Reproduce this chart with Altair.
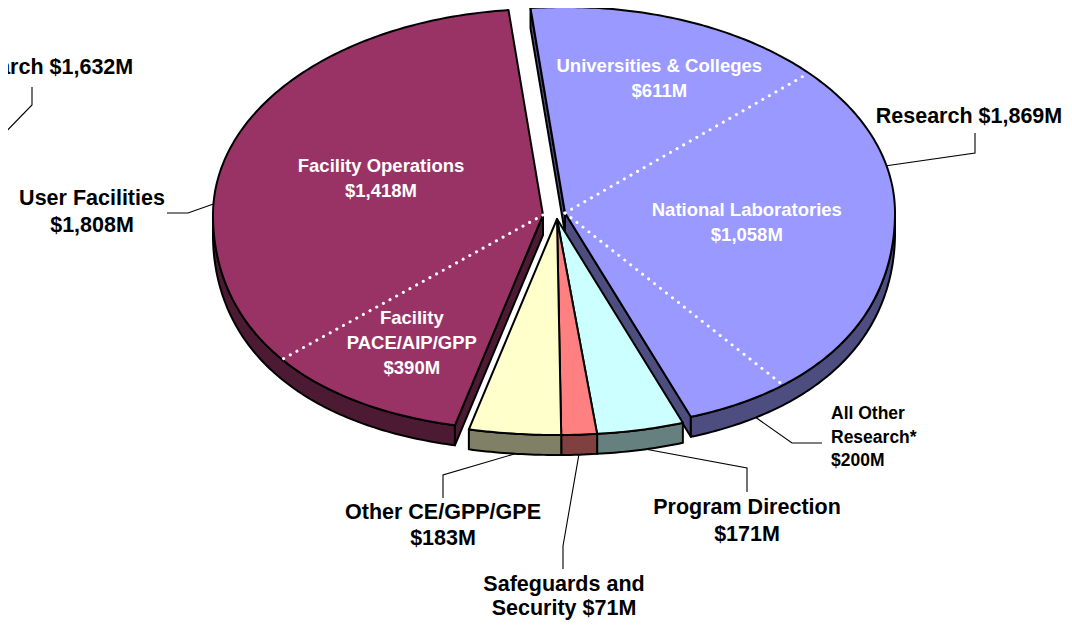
import math
import altair as alt

# ---------------- chart values ----------------
slice_names = ["Research", "Program Direction", "Safeguards and Security",
               "Other CE/GPP/GPE", "User Facilities"]          # clockwise from the top
slice_values = [1869, 171, 71, 183, 1808]                        # $M
slice_piece = [0, 1, 1, 1, 2]                                    # exploded piece of each slice
top_colors = ["#9999FF", "#CCFFFF", "#FF8080", "#FFFFCC", "#993366"]
side_colors = ["#4D4D80", "#668080", "#804040", "#808066", "#4D1A33"]

research_parts = ["Universities & Colleges", "National Laboratories", "All Other Research*"]
research_part_values = [611, 1058, 200]
facility_parts = ["Facility PACE/AIP/GPP", "Facility Operations"]
facility_part_values = [390, 1418]

neighbour_name = "Research"          # label of the neighbouring (cut off) pie
neighbour_value = 1632


def money(v):
    return f"${v:,}M"


# ---------------- layout (page pixels) ----------------
MARGIN = 8
START = -6.0
CX, CY = 557, 219
RX, RY, RY_PERSP = 330, 211, 5
BULGE = 0.04
DEPTH = 20
piece_offset = [(8, -6), (0, 0), (-14, -4)]
FONT = "Liberation Sans"

total = sum(slice_values)
spans = [v / total * 360 for v in slice_values]
a0s, a = [], START
for s_ in spans:
    a0s.append(a)
    a += s_
a1s = [a0 + s_ for a0, s_ in zip(a0s, spans)]


def apex(piece, down=0.0):
    ox, oy = piece_offset[piece]
    return [CX + ox, CY + oy + down]


def rim(piece, theta, down=0.0):
    ox, oy = piece_offset[piece]
    t = math.radians(theta)
    s, c = math.sin(t), math.cos(t)
    g = 1 + BULGE * math.sin(2 * t) ** 2 if c < 0 else 1.0
    ry = RY - RY_PERSP * c
    return [CX + ox + RX * s * g, CY + oy - ry * c * g + down]


def arc(piece, t0, t1, down=0.0):
    n = max(2, int(abs(t1 - t0) / 0.75) + 1)
    return [rim(piece, t0 + (t1 - t0) * i / (n - 1), down) for i in range(n)]


features = []


def poly(pts, fill):
    ring = pts + [pts[0]]
    features.append({"type": "Feature",
                     "geometry": {"type": "Polygon", "coordinates": [ring]},
                     "fill": fill})


# radial walls of each exploded piece (only those facing the viewer)
for p in range(3):
    idx = [i for i in range(len(slice_values)) if slice_piece[i] == p]
    first, last = idx[0], idx[-1]
    t_start, t_end = a0s[first], a1s[last]
    if math.sin(math.radians(t_start)) < 0:
        poly([apex(p), rim(p, t_start), rim(p, t_start, DEPTH), apex(p, DEPTH)], side_colors[first])
    if math.sin(math.radians(t_end)) > 0:
        poly([apex(p), rim(p, t_end), rim(p, t_end, DEPTH), apex(p, DEPTH)], side_colors[last])

# outer (front) walls
for i in range(len(slice_values)):
    lo, hi = max(a0s[i], 90), min(a1s[i], 270)
    if hi > lo:
        p = slice_piece[i]
        poly(arc(p, lo, hi) + arc(p, hi, lo, DEPTH), side_colors[i])

# top faces
for i in range(len(slice_values)):
    p = slice_piece[i]
    poly([apex(p)] + arc(p, a0s[i], a1s[i]), top_colors[i])

# dotted sub-division lines
dots = []
ri = slice_names.index("Research")
fi = slice_names.index("User Facilities")
cum = a0s[ri]
for v in research_part_values[:-1]:
    cum += v / total * 360
    for k, pt in enumerate([apex(0), rim(0, cum)]):
        dots.append({"lon": pt[0], "lat": pt[1], "id": f"r{cum:.1f}", "ord": k})
cum = a0s[fi]
for v in facility_part_values[:-1]:
    cum += v / total * 360
    for k, pt in enumerate([apex(2), rim(2, cum)]):
        dots.append({"lon": pt[0], "lat": pt[1], "id": f"f{cum:.1f}", "ord": k})

# inner labels: (piece, angle, radius fraction, lines)
inner_labels = [
    (0, 24.1, 0.70, [research_parts[0], money(research_part_values[0])]),
    (0, 94.9, 0.553, [research_parts[1], money(research_part_values[1])]),
    (2, 289.6, 0.521, [facility_parts[1], money(facility_part_values[1])]),
    (2, 213.2, 0.726, ["Facility", "PACE/AIP/GPP", money(facility_part_values[0])]),
]
inner_rows = []
for p, ang, r, lines in inner_labels:
    ax, ay = apex(p)
    t = math.radians(ang)
    x, y = ax + RX * r * math.sin(t), ay - RY * r * math.cos(t)
    for k, ln in enumerate(lines):
        inner_rows.append({"lon": x, "lat": y + (k - (len(lines) - 1) / 2) * 25, "t": ln})

# outer labels and leader lines
V = dict(zip(slice_names, slice_values))
outer = [
    # lines, x, first y, spacing, leader(piece, angle, down), elbow, end
    ([f"Research {money(V['Research'])}"], 969, 117, 27, (0, 77, 0), (975, 153), (975, 133)),
    (["User Facilities", money(V["User Facilities"])], 92, 199, 27, (2, 273, 0), (188, 213), (167, 213)),
    (["Program Direction", money(V["Program Direction"])], 747, 508, 27, (1, 164.5, DEPTH), (747, 468), (747, 492)),
    (["Safeguards and", f"Security {money(V['Safeguards and Security'])}"], 564, 585, 24,
     (1, 176.2, DEPTH), (563, 546), (563, 569)),
    (["Other CE/GPP/GPE", money(V["Other CE/GPP/GPE"])], 443, 513, 26, (1, 187.3, DEPTH), (443, 475), (443, 498)),
]
outer_rows, lead = [], []
for n, (lines, x, y0, sp, (p, ang, dn), el, en) in enumerate(outer):
    for k, ln in enumerate(lines):
        outer_rows.append({"lon": x, "lat": y0 + k * sp, "t": ln})
    for k, pt in enumerate([rim(p, ang, dn), list(el), list(en)]):
        lead.append({"lon": pt[0], "lat": pt[1], "id": f"o{n}", "ord": k})

# "All Other Research*" (small, left aligned)
small_rows = [{"lon": 831, "lat": 414 + k * 23.5, "t": ln}
              for k, ln in enumerate(["All Other", "Research*", money(research_part_values[2])])]
for k, pt in enumerate([rim(0, 146, DEPTH), [792, 443], [822, 443]]):
    lead.append({"lon": pt[0], "lat": pt[1], "id": "aor", "ord": k})

# neighbouring pie's label, cut off by the left edge
outer_rows.append({"lon": 40, "lat": 68, "t": f"{neighbour_name} {money(neighbour_value)}"})
for k, pt in enumerate([[-6, 144], [32, 105], [32, 87]]):
    lead.append({"lon": pt[0], "lat": pt[1], "id": "nb", "ord": k})

proj = dict(type="identity", scale=1, translate=[-MARGIN, -MARGIN])

shapes = alt.Chart(alt.Data(values=features)).mark_geoshape(
    stroke="black", strokeWidth=2, strokeJoin="round"
).encode(fill=alt.Fill("fill:N", scale=None)).project(**proj)

dotted = alt.Chart(alt.Data(values=dots)).mark_line(
    color="white", strokeWidth=3, strokeDash=[0.1, 7.5], strokeCap="round"
).encode(longitude="lon:Q", latitude="lat:Q", detail="id:N", order="ord:Q").project(**proj)

leaders = alt.Chart(alt.Data(values=lead)).mark_line(
    color="black", strokeWidth=1.1
).encode(longitude="lon:Q", latitude="lat:Q", detail="id:N", order="ord:Q").project(**proj)

inner_text = alt.Chart(alt.Data(values=inner_rows)).mark_text(
    font=FONT, fontWeight="bold", fontSize=18.5, color="white", align="center", baseline="middle"
).encode(longitude="lon:Q", latitude="lat:Q", text="t:N").project(**proj)

outer_text = alt.Chart(alt.Data(values=outer_rows)).mark_text(
    font=FONT, fontWeight="bold", fontSize=21.5, color="black", align="center", baseline="middle"
).encode(longitude="lon:Q", latitude="lat:Q", text="t:N").project(**proj)

small_text = alt.Chart(alt.Data(values=small_rows)).mark_text(
    font=FONT, fontWeight="bold", fontSize=17.5, color="black", align="left", baseline="middle"
).encode(longitude="lon:Q", latitude="lat:Q", text="t:N").project(**proj)

chart = alt.layer(shapes, dotted, leaders, inner_text, outer_text, small_text).properties(
    width=1056, height=613, autosize=alt.AutoSizeParams(type="none"), padding=0,
    background="white"
).configure_view(strokeWidth=0)

chart.save("out.html", embed_options={"renderer": "svg", "actions": False})
